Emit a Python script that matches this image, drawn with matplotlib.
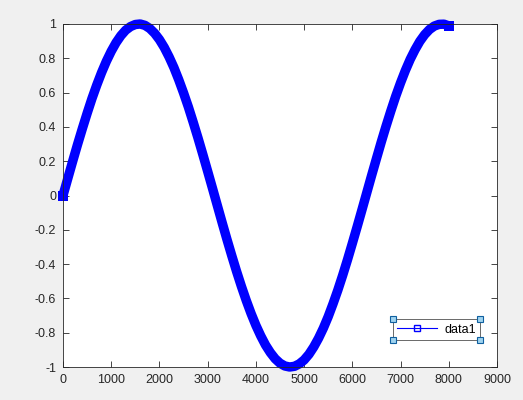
import matplotlib
matplotlib.use('Agg')
from matplotlib import pyplot as plt
from matplotlib.lines import Line2D

# values, one every 100 along x
x_vals = [i * 100 for i in range(81)]
y_vals = [0.000, 0.100, 0.199, 0.296, 0.389, 0.479, 0.565, 0.644, 0.717, 0.783,
          0.841, 0.891, 0.932, 0.964, 0.985, 0.997, 1.000, 0.992, 0.974, 0.946,
          0.909, 0.863, 0.808, 0.746, 0.675, 0.598, 0.516, 0.427, 0.335, 0.239,
          0.141, 0.042, -0.058, -0.158, -0.256, -0.351, -0.443, -0.530, -0.612, -0.688,
          -0.757, -0.818, -0.872, -0.916, -0.952, -0.978, -0.994, -1.000, -0.996, -0.982,
          -0.959, -0.926, -0.883, -0.832, -0.773, -0.706, -0.631, -0.551, -0.465, -0.374,
          -0.279, -0.182, -0.083, 0.017, 0.117, 0.215, 0.312, 0.405, 0.494, 0.579,
          0.657, 0.729, 0.794, 0.850, 0.899, 0.938, 0.968, 0.988, 0.998, 0.999, 0.989]
x_ticks = [0, 1000, 2000, 3000, 4000, 5000, 6000, 7000, 8000, 9000]
y_ticks = [-1, -0.8, -0.6, -0.4, -0.2, 0, 0.2, 0.4, 0.6, 0.8, 1]
series_name = 'data1'

plt.rcParams['font.family'] = ['Liberation Sans', 'DejaVu Sans']

fig = plt.figure(figsize=(5.23, 4.0), dpi=100, facecolor='#f0f0f0')
ax = fig.add_axes([63 / 523, 33 / 400, 434 / 523, 343 / 400])
ax.set_facecolor('white')

# thick smooth band, square markers only at the two ends
ax.plot(x_vals, y_vals, color='#0000ff', lw=6.8, solid_capstyle='butt',
        solid_joinstyle='round', marker='s', markersize=6.5, markevery=[0, -1],
        markerfacecolor='#0000ff', markeredgewidth=0, clip_on=False)

ax.set_xlim(0, 9000)
ax.set_ylim(-1, 1)
ax.set_xticks(x_ticks)
ax.set_xticklabels([str(t) for t in x_ticks])
ax.set_yticks(y_ticks)
ax.set_yticklabels(['%g' % t for t in y_ticks])
ax.tick_params(direction='in', top=True, right=True, length=4, width=0.6,
               labelsize=9, colors='#262626', pad=5)
for s in ax.spines.values():
    s.set_color('#262626')
    s.set_linewidth(0.6)

proxy = Line2D([0], [0], color='#0000ff', lw=0.8, marker='s', markersize=5,
               markerfacecolor='none', markeredgecolor='#0000ff')
leg = ax.legend(handles=[proxy], labels=[series_name], loc='lower left',
                bbox_to_anchor=(0.760, 0.079, 0.201, 0.058), mode='expand',
                fontsize=9, frameon=True, fancybox=False, borderpad=0.35,
                handlelength=3.2, handletextpad=0.6, borderaxespad=0)
leg.get_frame().set_edgecolor('#262626')
leg.get_frame().set_linewidth(0.6)

# selection handles at the legend corners
fig.canvas.draw()
bb = leg.get_window_extent().transformed(fig.transFigure.inverted())
cx = [bb.x0, bb.x1, bb.x0, bb.x1]
cy = [bb.y0, bb.y0, bb.y1, bb.y1]
fig.add_artist(Line2D(cx, cy, transform=fig.transFigure, linestyle='none',
                      marker='s', markersize=5, markerfacecolor='#9fd3ef',
                      markeredgecolor='#1060a0', markeredgewidth=0.8))

fig.savefig('out.png', dpi=100, facecolor=fig.get_facecolor())
